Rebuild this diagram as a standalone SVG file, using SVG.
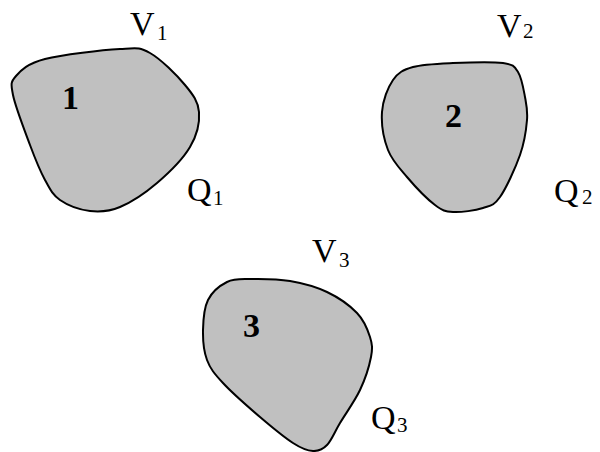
<svg xmlns="http://www.w3.org/2000/svg" width="600" height="452" viewBox="0 0 600 452">
<style>
.blob{fill:#c0c0c0;stroke:#000;stroke-width:2}
text{font-family:"Liberation Serif","Times New Roman",serif;fill:#000}
.lab{font-size:34px}
.sub{font-size:21px}
.num{font-size:34px;font-weight:bold}
</style>
<rect width="600" height="452" fill="#fff"/>
<g id="node1">
<path class="blob" d="M13,95 C10.7,83.5 10.7,82 16,76 C21.3,70 27.7,63.5 45,59 C62.3,54.5 102.5,50 120,49 C137.5,48 139.2,47 150,53 C160.8,59 176.8,75.2 185,85 C193.2,94.8 198.2,101.7 199,112 C199.8,122.3 197,135.2 190,147 C183,158.8 168.7,173 157,183 C145.3,193 131.2,202.3 120,207 C108.8,211.7 100,212.2 90,211 C80,209.8 67.5,205.2 60,200 C52.5,194.8 50,189.2 45,180 C40,170.8 35.3,159.2 30,145 C24.7,130.8 15.3,106.5 13,95 Z"/>
<text class="num" x="62" y="109">1</text>
<text class="lab" x="130" y="35">V<tspan class="sub" x="157" y="40">1</tspan></text>
<text class="lab" x="187" y="201">Q<tspan class="sub" x="213" y="205">1</tspan></text>
</g>
<g id="node2">
<path class="blob" d="M382,112 C382.8,100.3 387.8,87.5 393,80 C398.2,72.5 403,69.8 413,67 C423,64.2 438,63.7 453,63 C468,62.3 492.2,61.5 503,63 C513.8,64.5 514.3,66.3 518,72 C521.7,77.7 523.5,89 525,97 C526.5,105 527.8,110.3 527,120 C526.2,129.7 524.5,142.2 520,155 C515.5,167.8 506.2,188.2 500,197 C493.8,205.8 490.8,205.5 483,208 C475.2,210.5 461,212.5 453,212 C445,211.5 442.7,210.8 435,205 C427.3,199.2 414.8,186.2 407,177 C399.2,167.8 392.2,160.8 388,150 C383.8,139.2 381.2,123.7 382,112 Z"/>
<text class="num" x="445" y="127">2</text>
<text class="lab" x="497" y="37">V<tspan class="sub" x="523" y="38">2</tspan></text>
<text class="lab" x="554" y="202">Q<tspan class="sub" x="582" y="204">2</tspan></text>
</g>
<g id="node3">
<path class="blob" d="M203,330 C203.2,320 204,308 208,300 C212,292 220,285.5 227,282 C234,278.5 239.5,279.2 250,279 C260.5,278.8 277.2,278.8 290,281 C302.8,283.2 315.8,286.7 327,292 C338.2,297.3 349.8,305.5 357,313 C364.2,320.5 367.7,329.7 370,337 C372.3,344.3 372.7,348.2 371,357 C369.3,365.8 365.2,379 360,390 C354.8,401 345.5,413.8 340,423 C334.5,432.2 331.5,440.3 327,445 C322.5,449.7 318.7,451.3 313,451 C307.3,450.7 301.8,448.7 293,443 C284.2,437.3 271.7,427 260,417 C248.3,407 231.8,392.5 223,383 C214.2,373.5 210.3,368.8 207,360 C203.7,351.2 202.8,340 203,330 Z"/>
<text class="num" x="243" y="337">3</text>
<text class="lab" x="312" y="262">V<tspan class="sub" x="339" y="267">3</tspan></text>
<text class="lab" x="371" y="429">Q<tspan class="sub" x="397" y="432">3</tspan></text>
</g>
<g id="connectors"/>
</svg>
